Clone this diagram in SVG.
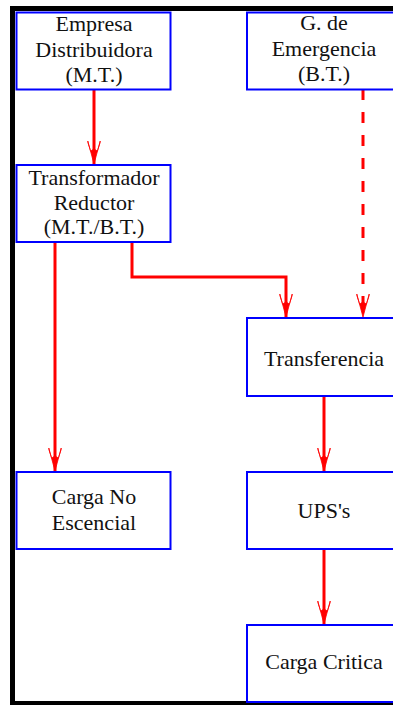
<svg xmlns="http://www.w3.org/2000/svg" width="393" height="705" viewBox="0 0 393 705">
<style>
.box rect{fill:#fff;stroke:#0000ff;stroke-width:2}
.box text{font-family:'Liberation Serif','DejaVu Serif',serif;font-size:22px;fill:#111;text-anchor:middle}
.wire{fill:none;stroke:#ff0000;stroke-width:3;marker-end:url(#ah)}
.dash{stroke-dasharray:11 12}
</style>
<defs>
<marker id="ah" markerUnits="userSpaceOnUse" markerWidth="30" markerHeight="20" refX="24" refY="8" orient="auto">
<path d="M24,8 L1,1.8 L3,2 L11,4.6 L9,8 L11,11.4 L3,14 L1,14.2 Z" fill="#ff0000" stroke="#ff0000" stroke-width="0.8"/>
</marker>
</defs>
<rect x="12.5" y="8.5" width="400" height="695" fill="#fff" stroke="#000" stroke-width="5"/>
<g id="connectors">
<path class="wire" d="M94,90 V164"/>
<path class="wire" d="M55,243 V471"/>
<path class="wire" d="M132,243 V277 H286 V317"/>
<path class="wire dash" d="M363,89 V317"/>
<path class="wire" d="M324,396 V471"/>
<path class="wire" d="M324,549 V624"/>
</g>
<g id="empresa" class="box">
<rect x="16.5" y="12.5" width="154" height="77"/>
<text x="94" y="31" font-family="Liberation Serif, serif">Empresa</text>
<text x="94" y="57" font-family="Liberation Serif, serif">Distribuidora</text>
<text x="94" y="81.5" font-family="Liberation Serif, serif">(M.T.)</text>
</g>
<g id="emergencia" class="box">
<rect x="247" y="12.5" width="154" height="77"/>
<text x="324" y="30" font-family="Liberation Serif, serif">G. de</text>
<text x="324" y="55.5" font-family="Liberation Serif, serif">Emergencia</text>
<text x="324" y="81" font-family="Liberation Serif, serif">(B.T.)</text>
</g>
<g id="transformador" class="box">
<rect x="16.5" y="165" width="154" height="77"/>
<text x="94" y="185" font-family="Liberation Serif, serif">Transformador</text>
<text x="94" y="210" font-family="Liberation Serif, serif">Reductor</text>
<text x="94" y="234" font-family="Liberation Serif, serif">(M.T./B.T.)</text>
</g>
<g id="transferencia" class="box">
<rect x="247" y="318" width="154" height="78"/>
<text x="324" y="365.5" font-family="Liberation Serif, serif">Transferencia</text>
</g>
<g id="carga-no-escencial" class="box">
<rect x="16.5" y="472" width="154" height="77"/>
<text x="94" y="504" font-family="Liberation Serif, serif">Carga No</text>
<text x="94" y="530" font-family="Liberation Serif, serif">Escencial</text>
</g>
<g id="ups" class="box">
<rect x="247" y="472" width="154" height="77"/>
<text x="324" y="518" font-family="Liberation Serif, serif">UPS's</text>
</g>
<g id="carga-critica" class="box">
<rect x="247" y="625" width="154" height="77"/>
<text x="324" y="669" font-family="Liberation Serif, serif">Carga Critica</text>
</g>
</svg>
